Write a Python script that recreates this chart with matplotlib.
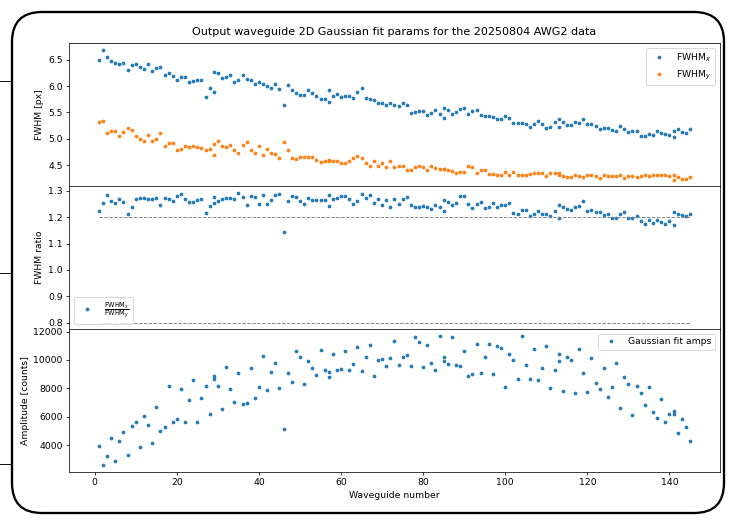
import matplotlib.pyplot as plt
from matplotlib.patches import FancyBboxPatch
from matplotlib.lines import Line2D
from matplotlib.transforms import IdentityTransform
import numpy as np

# Waveguide numbers (the blocks overlap by one waveguide: 29, 57, 85, 113, 141)
waveguide = (list(range(1, 30)) + list(range(29, 58)) + list(range(57, 86))
             + list(range(85, 114)) + list(range(113, 142)) + list(range(141, 146)))

fwhm_x = [6.49, 6.69, 6.55, 6.48, 6.43, 6.42, 6.44, 6.31, 6.39, 6.42,
          6.36, 6.33, 6.41, 6.28, 6.34, 6.36, 6.20, 6.25, 6.19, 6.12,
          6.18, 6.18, 6.08, 6.10, 6.12, 6.12, 5.79, 5.96, 5.88,
          6.26, 6.24, 6.16, 6.17, 6.20, 6.08, 6.12, 6.21, 6.14, 6.11,
          6.03, 6.07, 6.04, 6.00, 5.97, 6.03, 5.95, 5.65, 6.02, 5.92,
          5.86, 5.83, 5.83, 5.92, 5.86, 5.81, 5.76, 5.76, 5.70,
          5.92, 5.82, 5.84, 5.79, 5.81, 5.81, 5.78, 5.88, 5.97, 5.78,
          5.75, 5.74, 5.68, 5.68, 5.64, 5.67, 5.65, 5.62, 5.68, 5.64,
          5.49, 5.51, 5.52, 5.52, 5.45, 5.49, 5.54, 5.47, 5.39,
          5.59, 5.54, 5.48, 5.51, 5.56, 5.58, 5.47, 5.53, 5.55, 5.46,
          5.43, 5.44, 5.42, 5.37, 5.37, 5.43, 5.39, 5.30, 5.30, 5.30,
          5.28, 5.23, 5.28, 5.33, 5.29, 5.21, 5.23, 5.31, 5.22,
          5.38, 5.31, 5.27, 5.26, 5.31, 5.30, 5.38, 5.29, 5.29, 5.24,
          5.19, 5.21, 5.21, 5.16, 5.14, 5.24, 5.19, 5.13, 5.14, 5.14,
          5.06, 5.06, 5.09, 5.08, 5.15, 5.11, 5.09, 5.08, 5.04,
          5.15, 5.18, 5.13, 5.11, 5.18]

fwhm_y = [5.31, 5.33, 5.11, 5.15, 5.14, 5.06, 5.13, 5.21, 5.16, 5.06,
          5.00, 4.96, 5.07, 4.96, 4.99, 5.11, 4.87, 4.93, 4.93, 4.78,
          4.81, 4.87, 4.84, 4.86, 4.85, 4.82, 4.78, 4.81, 4.69,
          4.91, 4.96, 4.87, 4.84, 4.88, 4.79, 4.74, 4.88, 4.94, 4.78,
          4.73, 4.87, 4.70, 4.81, 4.73, 4.71, 4.63, 4.95, 4.78, 4.64,
          4.61, 4.65, 4.66, 4.66, 4.66, 4.60, 4.57, 4.58, 4.59,
          4.60, 4.59, 4.59, 4.54, 4.54, 4.59, 4.64, 4.67, 4.64, 4.54,
          4.48, 4.58, 4.48, 4.55, 4.46, 4.58, 4.46, 4.49, 4.48, 4.42,
          4.42, 4.46, 4.48, 4.46, 4.41, 4.48, 4.45, 4.43, 4.43,
          4.43, 4.41, 4.39, 4.36, 4.38, 4.38, 4.48, 4.46, 4.35, 4.41,
          4.42, 4.34, 4.34, 4.32, 4.32, 4.37, 4.32, 4.38, 4.32, 4.31,
          4.32, 4.34, 4.36, 4.36, 4.36, 4.29, 4.36, 4.36, 4.36,
          4.32, 4.29, 4.28, 4.28, 4.31, 4.29, 4.28, 4.31, 4.31, 4.30,
          4.25, 4.31, 4.30, 4.30, 4.29, 4.32, 4.25, 4.29, 4.30, 4.28,
          4.29, 4.32, 4.29, 4.31, 4.32, 4.32, 4.32, 4.29, 4.31,
          4.23, 4.28, 4.24, 4.24, 4.28]

fwhm_ratio = [1.224, 1.256, 1.286, 1.261, 1.255, 1.271, 1.258, 1.213, 1.240, 1.271,
              1.275, 1.275, 1.268, 1.271, 1.275, 1.248, 1.275, 1.271, 1.260, 1.280,
              1.288, 1.270, 1.259, 1.258, 1.266, 1.271, 1.215, 1.243, 1.255,
              1.276, 1.263, 1.270, 1.275, 1.274, 1.271, 1.294, 1.276, 1.245, 1.281,
              1.276, 1.250, 1.285, 1.250, 1.265, 1.283, 1.288, 1.143, 1.261, 1.279,
              1.276, 1.260, 1.252, 1.274, 1.264, 1.265, 1.265, 1.264, 1.244,
              1.284, 1.271, 1.274, 1.279, 1.281, 1.268, 1.251, 1.260, 1.288, 1.274,
              1.284, 1.254, 1.271, 1.248, 1.264, 1.239, 1.268, 1.252, 1.269, 1.278,
              1.246, 1.239, 1.238, 1.241, 1.240, 1.231, 1.248, 1.238, 1.223,
              1.264, 1.258, 1.245, 1.256, 1.280, 1.280, 1.251, 1.235, 1.249, 1.258,
              1.234, 1.239, 1.254, 1.240, 1.245, 1.245, 1.255, 1.218, 1.211, 1.228,
              1.226, 1.206, 1.213, 1.223, 1.211, 1.213, 1.205, 1.223, 1.196,
              1.246, 1.238, 1.230, 1.229, 1.238, 1.241, 1.261, 1.225, 1.229, 1.221,
              1.221, 1.207, 1.214, 1.199, 1.199, 1.213, 1.221, 1.196, 1.199, 1.205,
              1.184, 1.174, 1.188, 1.179, 1.190, 1.183, 1.175, 1.184, 1.171,
              1.219, 1.213, 1.207, 1.206, 1.213]

amps = [3954, 2581, 3279, 4535, 2884, 4279, 4931, 3302, 5326, 5605,
        3861, 6094, 5442, 4140, 6722, 5000, 5256, 8164, 5605, 5884,
        7931, 5605, 7210, 8606, 5628, 7350, 8164, 6187, 8629,
        8862, 8141, 6559, 9513, 7931, 7047, 9071, 6908, 6954, 9466,
        7326, 8117, 10257, 7861, 9187, 9792, 8001, 5163, 9094, 8420,
        10653, 10211, 8303, 9955, 9466, 8978, 10699, 9304, 8792,
        9187, 10397, 9280, 9350, 10606, 9304, 9699, 10885, 9257, 10211,
        11071, 8862, 9978, 10094, 9559, 10164, 11350, 9652, 10211, 10374,
        9606, 11583, 11234, 9513, 11071, 9815, 9304, 11722, 9955,
        10187, 9699, 11606, 9629, 9559, 10653, 8862, 9025, 11095, 9071,
        10211, 11095, 9025, 11002, 10815, 8094, 10397, 10001, 8629, 11676,
        9629, 8652, 10769, 8606, 9443, 10978, 8001, 9327, 9908,
        10420, 7792, 10234, 10001, 7698, 10746, 9071, 7745, 10118, 8350,
        7955, 9466, 7420, 8071, 9815, 6605, 8769, 8327, 6163, 8141,
        7698, 6838, 8071, 6350, 5908, 7257, 5628, 6187, 6210,
        6396, 4884, 5838, 5303, 4303]

# Reference ratio limits
ratio_limits = [1.2, 0.8]

# -----------------------------------------------------------------------------
dpi = 67
fig, axs = plt.subplots(3, 1, sharex=True, figsize=(731 / dpi, 519 / dpi), dpi=dpi)
fig.subplots_adjust(left=0.0948, right=0.9843, top=0.917, bottom=0.0906, hspace=0)

# FWHM x / y
axs[0].plot(waveguide, fwhm_x, '.', label=r'FWHM$_x$')
axs[0].plot(waveguide, fwhm_y, '.', label=r'FWHM$_y$')
axs[0].set_ylabel('FWHM [px]')
axs[0].legend(loc='upper right')
axs[0].set_title('Output waveguide 2D Gaussian fit params for the 20250804 AWG2 data', pad=9)

# Ratio
axs[1].plot(waveguide, fwhm_ratio, '.', label=r'$\frac{\mathrm{FWHM}_x}{\mathrm{FWHM}_y}$')
for lim in ratio_limits:
    axs[1].hlines(lim, min(waveguide), max(waveguide), colors='grey', linestyles='--', linewidth=1)
axs[1].set_ylabel('FWHM ratio')
axs[1].legend(loc='lower left')

# Amplitudes
axs[2].plot(waveguide, amps, '.', label='Gaussian fit amps')
axs[2].set_ylabel('Amplitude [counts]')
axs[2].set_xlabel('Waveguide number')
axs[2].legend(loc='upper right')

# rounded frame of the screenshot + bits of neighbouring window
frame = FancyBboxPatch((12, 6), 712, 501, boxstyle='round,pad=0,rounding_size=30',
                       transform=IdentityTransform(), fill=False, edgecolor='black',
                       linewidth=2.5)
fig.add_artist(frame)
for yy in [438, 246, 55]:
    fig.add_artist(Line2D([0, 12], [yy, yy], transform=IdentityTransform(),
                          color='black', linewidth=1))

plt.savefig('out.png', dpi=dpi)
